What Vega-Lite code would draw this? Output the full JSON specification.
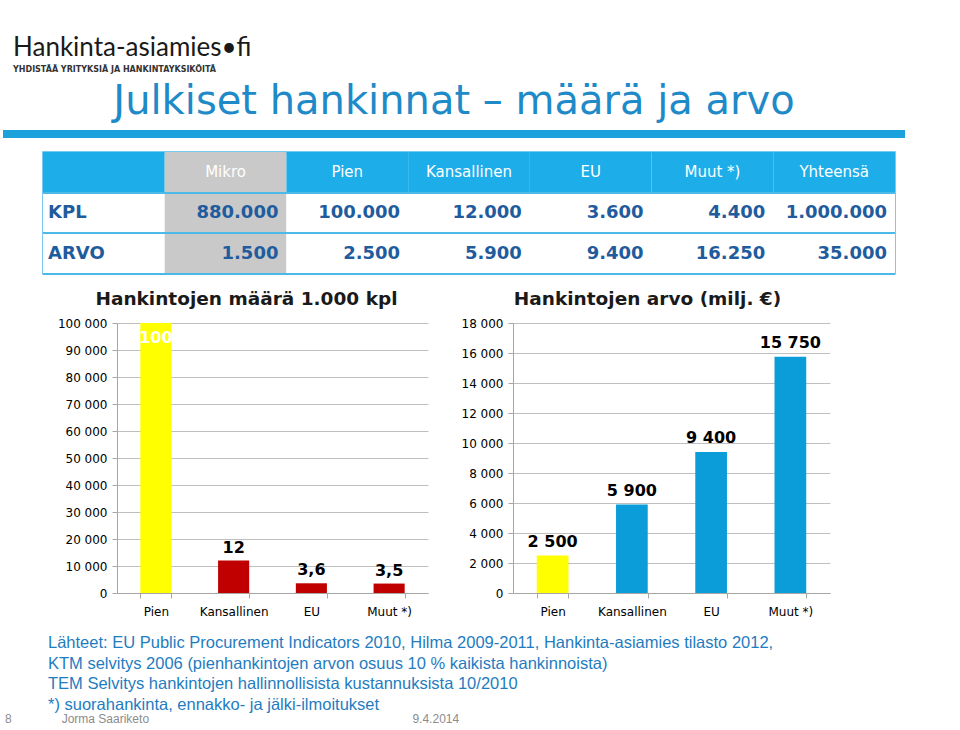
{
  "$schema": "https://vega.github.io/schema/vega-lite/v6.json",
  "background": "white",
  "padding": {"left": 3, "top": 35, "right": 5, "bottom": 5},
  "config": {
    "locale": {"number": {"decimal": ",", "thousands": " ", "grouping": [3], "currency": ["", " €"]}},
    "axis": {"labelFont": "DejaVu Sans", "labelColor": "#000000", "domainColor": "#A6A6A6", "tickColor": "#A6A6A6", "gridColor": "#BFBFBF", "labelFontSize": 12}
  },
  "title": {
    "text": "Hankinta-asiamies•fi",
    "subtitle": "YHDISTÄÄ YRITYKSIÄ JA HANKINTAYKSIKÖITÄ",
    "anchor": "start", "frame": "bounds", "dx": 10,
    "font": "Lato", "fontSize": 26, "fontWeight": "normal", "color": "#1a1a1a",
    "subtitleFont": "DejaVu Sans", "subtitleFontSize": 8, "subtitleFontWeight": "bold", "subtitleColor": "#333333", "subtitlePadding": 5,
    "offset": 8
  },
  "vconcat": [
    {
      "title": {
        "text": "8\u00a0\u00a0\u00a0\u00a0\u00a0\u00a0\u00a0\u00a0\u00a0\u00a0\u00a0\u00a0\u00a0\u00a0\u00a0Jorma Saariketo\u00a0\u00a0\u00a0\u00a0\u00a0\u00a0\u00a0\u00a0\u00a0\u00a0\u00a0\u00a0\u00a0\u00a0\u00a0\u00a0\u00a0\u00a0\u00a0\u00a0\u00a0\u00a0\u00a0\u00a0\u00a0\u00a0\u00a0\u00a0\u00a0\u00a0\u00a0\u00a0\u00a0\u00a0\u00a0\u00a0\u00a0\u00a0\u00a0\u00a0\u00a0\u00a0\u00a0\u00a0\u00a0\u00a0\u00a0\u00a0\u00a0\u00a0\u00a0\u00a0\u00a0\u00a0\u00a0\u00a0\u00a0\u00a0\u00a0\u00a0\u00a0\u00a0\u00a0\u00a0\u00a0\u00a0\u00a0\u00a0\u00a0\u00a0\u00a0\u00a0\u00a0\u00a0\u00a0\u00a0\u00a0\u00a0\u00a09.4.2014",
        "orient": "bottom", "anchor": "start", "frame": "bounds", "dx": 2,
        "font": "Liberation Sans", "fontSize": 12, "fontWeight": "normal", "color": "#8C8C8C", "offset": 1
      },
      "spacing": 13,
      "vconcat": [
        {
          "width": 902, "height": 8,
          "title": {"text": "Julkiset hankinnat – määrä ja arvo", "anchor": "middle", "frame": "group", "font": "DejaVu Sans", "fontSize": 40, "fontWeight": "normal", "color": "#1F8AC8", "offset": 8},
          "data": {"values": [{}]},
          "mark": {"type": "point", "opacity": 0, "size": 0},
          "encoding": {},
          "view": {"fill": "#1BA1DB", "stroke": null}
        },
        {
          "spacing": 37,
          "hconcat": [
            {
              "width": 1, "height": 1,
              "data": {"values": [{}]},
              "mark": {"type": "point", "opacity": 0, "size": 0},
              "encoding": {},
              "view": {"stroke": null}
            },
            {
              "width": 852, "height": 122,
              "view": {"stroke": "#4DB9E9", "strokeWidth": 1.5},
              "data": {"values": [
                {"rivi": "otsikko", "sarake": "selite", "teksti": ""},
                {"rivi": "otsikko", "sarake": "Mikro", "teksti": "Mikro"},
                {"rivi": "otsikko", "sarake": "Pien", "teksti": "Pien"},
                {"rivi": "otsikko", "sarake": "Kansallinen", "teksti": "Kansallinen"},
                {"rivi": "otsikko", "sarake": "EU", "teksti": "EU"},
                {"rivi": "otsikko", "sarake": "Muut *)", "teksti": "Muut *)"},
                {"rivi": "otsikko", "sarake": "Yhteensä", "teksti": "Yhteensä"},
                {"rivi": "KPL", "sarake": "selite", "teksti": "KPL"},
                {"rivi": "KPL", "sarake": "Mikro", "teksti": "880.000"},
                {"rivi": "KPL", "sarake": "Pien", "teksti": "100.000"},
                {"rivi": "KPL", "sarake": "Kansallinen", "teksti": "12.000"},
                {"rivi": "KPL", "sarake": "EU", "teksti": "3.600"},
                {"rivi": "KPL", "sarake": "Muut *)", "teksti": "4.400"},
                {"rivi": "KPL", "sarake": "Yhteensä", "teksti": "1.000.000"},
                {"rivi": "ARVO", "sarake": "selite", "teksti": "ARVO"},
                {"rivi": "ARVO", "sarake": "Mikro", "teksti": "1.500"},
                {"rivi": "ARVO", "sarake": "Pien", "teksti": "2.500"},
                {"rivi": "ARVO", "sarake": "Kansallinen", "teksti": "5.900"},
                {"rivi": "ARVO", "sarake": "EU", "teksti": "9.400"},
                {"rivi": "ARVO", "sarake": "Muut *)", "teksti": "16.250"},
                {"rivi": "ARVO", "sarake": "Yhteensä", "teksti": "35.000"}
              ]},
              "encoding": {
                "x": {"field": "sarake", "type": "nominal", "sort": ["selite", "Mikro", "Pien", "Kansallinen", "EU", "Muut *)", "Yhteensä"], "scale": {"paddingInner": 0, "paddingOuter": 0}, "axis": null},
                "y": {"field": "rivi", "type": "nominal", "sort": ["otsikko", "KPL", "ARVO"], "scale": {"paddingInner": 0, "paddingOuter": 0}, "axis": null}
              },
              "layer": [
                {
                  "mark": {"type": "rect"},
                  "encoding": {
                    "color": {"condition": [{"test": "datum.sarake === 'Mikro'", "value": "#C9C9C9"}, {"test": "datum.rivi === 'otsikko'", "value": "#1DAEEA"}], "value": "#FFFFFF"}
                  }
                },
                {
                  "mark": {"type": "rule", "color": "#4DB9E9", "strokeWidth": 1.5},
                  "encoding": {
                    "x": null,
                    "y": {"field": "rivi", "type": "nominal", "sort": ["otsikko", "KPL", "ARVO"], "bandPosition": 1, "axis": null}
                  }
                },
                {
                  "transform": [{"filter": "datum.rivi === 'otsikko'"}],
                  "mark": {"type": "text", "align": "center", "baseline": "middle", "color": "#FFFFFF", "font": "DejaVu Sans", "fontSize": 15},
                  "encoding": {"text": {"field": "teksti"}}
                },
                {
                  "transform": [{"filter": "datum.rivi !== 'otsikko' && datum.sarake !== 'selite'"}],
                  "mark": {"type": "text", "align": "right", "baseline": "middle", "dx": -8, "color": "#1F5C9E", "font": "DejaVu Sans", "fontSize": 18, "fontWeight": "bold"},
                  "encoding": {
                    "x": {"field": "sarake", "type": "nominal", "sort": ["selite", "Mikro", "Pien", "Kansallinen", "EU", "Muut *)", "Yhteensä"], "bandPosition": 1, "axis": null},
                    "text": {"field": "teksti"}
                  }
                },
                {
                  "transform": [{"filter": "datum.rivi !== 'otsikko' && datum.sarake === 'selite'"}],
                  "mark": {"type": "text", "align": "left", "baseline": "middle", "dx": 5, "color": "#1F5C9E", "font": "DejaVu Sans", "fontSize": 18, "fontWeight": "bold"},
                  "encoding": {
                    "x": {"field": "sarake", "type": "nominal", "sort": ["selite", "Mikro", "Pien", "Kansallinen", "EU", "Muut *)", "Yhteensä"], "bandPosition": 0, "axis": null},
                    "text": {"field": "teksti"}
                  }
                }
              ]
            }
          ]
        },
        {
          "spacing": 32,
          "title": {
            "text": [
              "Lähteet: EU Public Procurement Indicators 2010, Hilma 2009-2011, Hankinta-asiamies tilasto 2012,",
              "KTM selvitys 2006 (pienhankintojen arvon osuus 10 % kaikista hankinnoista)",
              "TEM Selvitys hankintojen hallinnollisista kustannuksista 10/2010",
              "*) suorahankinta, ennakko- ja jälki-ilmoitukset"
            ],
            "orient": "bottom", "anchor": "start", "frame": "bounds", "dx": 45,
            "font": "Liberation Sans", "fontSize": 16.5, "lineHeight": 20.5, "fontWeight": "normal", "color": "#1F7CC1", "offset": 18
          },
          "hconcat": [
            {
              "width": 1, "height": 1,
              "data": {"values": [{}]},
              "mark": {"type": "point", "opacity": 0, "size": 0},
              "encoding": {},
              "view": {"stroke": null}
            },
            {
              "width": 311, "height": 270,
              "view": {"stroke": null},
              "title": {"text": "Hankintojen määrä 1.000 kpl", "anchor": "middle", "frame": "group", "dx": -26, "font": "DejaVu Sans", "fontSize": 18.5, "fontWeight": "bold", "color": "#1a1a1a", "offset": 9},
              "data": {"values": [
                {"luokka": "Pien", "maara": 100000, "tuhatta": 100},
                {"luokka": "Kansallinen", "maara": 12000, "tuhatta": 12},
                {"luokka": "EU", "maara": 3600, "tuhatta": 3.6},
                {"luokka": "Muut *)", "maara": 3500, "tuhatta": 3.5}
              ]},
              "encoding": {
                "x": {"field": "luokka", "type": "nominal", "sort": null, "scale": {"paddingInner": 0.6, "paddingOuter": 0.3},
                      "axis": {"title": null, "labelAngle": 0, "tickBand": "extent", "tickSize": 5, "labelPadding": 8, "grid": false}},
                "y": {"field": "maara", "type": "quantitative", "scale": {"domain": [0, 100000], "nice": false},
                      "axis": {"title": null, "values": [0, 10000, 20000, 30000, 40000, 50000, 60000, 70000, 80000, 90000, 100000], "format": ",d", "grid": true, "tickSize": 5, "labelPadding": 5, "minExtent": 81, "maxExtent": 81}}
              },
              "layer": [
                {
                  "mark": {"type": "bar"},
                  "encoding": {"color": {"condition": {"test": "datum.luokka === 'Pien'", "value": "#FFFF00"}, "value": "#C00000"}}
                },
                {
                  "transform": [{"filter": "datum.luokka !== 'Pien'"}],
                  "mark": {"type": "text", "baseline": "bottom", "dy": -5, "font": "DejaVu Sans", "fontSize": 16, "fontWeight": "bold", "color": "#000000"},
                  "encoding": {"text": {"field": "tuhatta", "type": "quantitative", "format": ".1~f"}}
                },
                {
                  "transform": [{"filter": "datum.luokka === 'Pien'"}],
                  "mark": {"type": "text", "baseline": "top", "dy": 7, "font": "DejaVu Sans", "fontSize": 16, "fontWeight": "bold", "color": "#FFFFFF"},
                  "encoding": {"text": {"field": "tuhatta", "type": "quantitative", "format": ".1~f"}}
                }
              ]
            },
            {
              "width": 317, "height": 270,
              "view": {"stroke": null},
              "title": {"text": "Hankintojen arvo (milj. €)", "anchor": "middle", "frame": "group", "dx": -24, "font": "DejaVu Sans", "fontSize": 18.5, "fontWeight": "bold", "color": "#1a1a1a", "offset": 9},
              "data": {"values": [
                {"luokka": "Pien", "arvo": 2500},
                {"luokka": "Kansallinen", "arvo": 5900},
                {"luokka": "EU", "arvo": 9400},
                {"luokka": "Muut *)", "arvo": 15750}
              ]},
              "encoding": {
                "x": {"field": "luokka", "type": "nominal", "sort": null, "scale": {"paddingInner": 0.6, "paddingOuter": 0.3},
                      "axis": {"title": null, "labelAngle": 0, "tickBand": "extent", "tickSize": 5, "labelPadding": 8, "grid": false}},
                "y": {"field": "arvo", "type": "quantitative", "scale": {"domain": [0, 18000], "nice": false},
                      "axis": {"title": null, "values": [0, 2000, 4000, 6000, 8000, 10000, 12000, 14000, 16000, 18000], "format": ",d", "grid": true, "tickSize": 5, "labelPadding": 5, "minExtent": 53, "maxExtent": 53}}
              },
              "layer": [
                {
                  "mark": {"type": "bar"},
                  "encoding": {"color": {"condition": {"test": "datum.luokka === 'Pien'", "value": "#FFFF00"}, "value": "#0B9DD9"}}
                },
                {
                  "mark": {"type": "text", "baseline": "bottom", "dy": -6, "font": "DejaVu Sans", "fontSize": 16, "fontWeight": "bold", "color": "#000000"},
                  "encoding": {"text": {"field": "arvo", "type": "quantitative", "format": ",d"}}
                }
              ]
            }
          ]
        }
      ]
    }
  ]
}
